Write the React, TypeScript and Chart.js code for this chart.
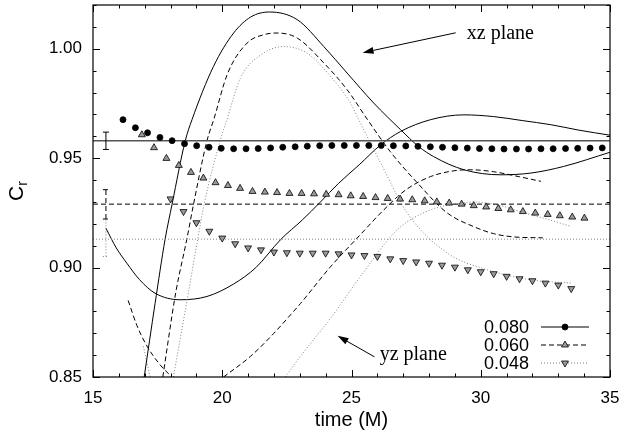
import React, { useEffect, useRef } from "react";
import { Chart, registerables } from "chart.js";
Chart.register(...registerables);

// ---------- data ----------
const xLabelTicks = [15, 20, 25, 30, 35];
const yLabelTicks = [0.85, 0.9, 0.95, 1.0];
const legendLabels = ["0.080", "0.060", "0.048"];

// reference levels (horizontal lines) and their error bars at t = 15.5
const refSpan = [15, 35];
const refLevels = [0.958, 0.929, 0.913];
const errX = [15.5, 15.5, 15.5];
const errLow = [0.954, 0.9222, 0.9051];
const errHigh = [0.9619, 0.9356, 0.9219];

// marker series
const circX = [16.16, 16.64, 17.11, 17.59, 18.06, 18.54, 19.01, 19.49, 19.96, 20.44, 20.92, 21.39, 21.87, 22.34, 22.82, 23.29, 23.77, 24.24, 24.72, 25.19, 25.67, 26.15, 26.62, 27.1, 27.57, 28.05, 28.52, 29.0, 29.48, 29.95, 30.43, 30.9, 31.38, 31.85, 32.33, 32.8, 33.28, 33.75, 34.23, 34.7];
const circY = [0.9676, 0.9639, 0.9616, 0.9595, 0.958, 0.9566, 0.9557, 0.955, 0.9545, 0.9543, 0.9543, 0.9544, 0.9547, 0.955, 0.9552, 0.9555, 0.9557, 0.9558, 0.9558, 0.9558, 0.9558, 0.9558, 0.9557, 0.9556, 0.9554, 0.9552, 0.955, 0.9548, 0.9546, 0.9544, 0.9543, 0.9542, 0.9542, 0.9542, 0.9543, 0.9543, 0.9544, 0.9545, 0.9546, 0.9547];

const upX = [16.89, 17.36, 17.84, 18.32, 18.79, 19.27, 19.74, 20.22, 20.69, 21.17, 21.65, 22.12, 22.6, 23.07, 23.55, 24.02, 24.5, 24.97, 25.45, 25.93, 26.4, 26.88, 27.35, 27.83, 28.3, 28.78, 29.26, 29.73, 30.21, 30.68, 31.16, 31.63, 32.11, 32.59, 33.06, 33.54, 34.01];
const upY = [0.9607, 0.9548, 0.9499, 0.9467, 0.9435, 0.9409, 0.9388, 0.9375, 0.9362, 0.9348, 0.9345, 0.9343, 0.9339, 0.9339, 0.9337, 0.9335, 0.9333, 0.9328, 0.9325, 0.932, 0.9316, 0.9313, 0.931, 0.9305, 0.93, 0.9295, 0.929, 0.9283, 0.9277, 0.927, 0.9264, 0.9256, 0.9249, 0.9243, 0.9237, 0.9231, 0.9226];

const dnX = [18.0, 18.5, 19.0, 19.5, 20.0, 20.5, 21.0, 21.5, 22.0, 22.5, 23.0, 23.5, 24.0, 24.5, 25.0, 25.5, 26.0, 26.5, 27.0, 27.5, 28.0, 28.5, 29.0, 29.5, 30.0, 30.5, 31.0, 31.5, 32.0, 32.5, 33.0, 33.5];
const dnY = [0.9314, 0.9256, 0.9205, 0.9166, 0.9135, 0.9109, 0.909, 0.9081, 0.9071, 0.9068, 0.9066, 0.9066, 0.9066, 0.9063, 0.9058, 0.9055, 0.9051, 0.904, 0.9032, 0.9026, 0.902, 0.9011, 0.9002, 0.899, 0.8981, 0.8972, 0.896, 0.8949, 0.894, 0.8929, 0.892, 0.8904];

// xz plane curves
const xzSolidX = [16.98, 17.4, 17.79, 18.06, 18.57, 18.83, 19.66, 20.44, 21.1, 21.83, 22.9, 23.93, 24.83, 25.86, 26.9, 27.6, 28.18, 29.35, 30.78, 31.94, 33.2, 35.0];
const xzSolidY = [0.85, 0.8835, 0.913, 0.929, 0.958, 0.9676, 0.9919, 1.0072, 1.0145, 1.0168, 1.0133, 1.001, 0.9889, 0.9752, 0.963, 0.9553, 0.9507, 0.9447, 0.9424, 0.9432, 0.9462, 0.9527];
const xzDashedX = [17.7, 18.2, 18.63, 18.89, 19.41, 19.68, 20.2, 20.96, 21.6, 22.12, 22.9, 23.93, 24.83, 25.62, 26.5, 27.54, 28.7, 29.73, 30.5, 31.3, 32.4];
const xzDashedY = [0.85, 0.8885, 0.913, 0.929, 0.958, 0.968, 0.9885, 1.0026, 1.0064, 1.0072, 1.0049, 0.9935, 0.9813, 0.9676, 0.953, 0.9388, 0.925, 0.9187, 0.9155, 0.914, 0.9136];
const xzDottedX = [18.11, 18.69, 19.05, 19.31, 19.92, 20.18, 20.7, 21.6, 22.38, 23.28, 24.19, 24.96, 25.28, 26.12, 27.16, 28.71, 30.26, 31.94, 33.55];
const xzDottedY = [0.85, 0.8885, 0.913, 0.9296, 0.958, 0.9676, 0.9865, 0.998, 1.001, 0.998, 0.9874, 0.9752, 0.9676, 0.948, 0.9249, 0.9066, 0.899, 0.8944, 0.8929];

// yz plane curves
const yzSolidX = [15.5, 15.9, 16.31, 16.8, 17.4, 18.37, 19.41, 20.44, 21.3, 22.25, 23.1, 23.8, 24.5, 25.3, 26.12, 26.9, 28.06, 29.35, 30.5, 31.6, 32.71, 33.8, 35.0];
const yzSolidY = [0.918, 0.909, 0.902, 0.8945, 0.8883, 0.8853, 0.8868, 0.8925, 0.9, 0.9127, 0.9218, 0.93, 0.9385, 0.947, 0.956, 0.9622, 0.9676, 0.9698, 0.969, 0.9672, 0.9653, 0.9628, 0.9605];
const yzDashedAX = [16.36, 16.7, 17.06, 17.6, 18.05];
const yzDashedAY = [0.885, 0.8735, 0.8647, 0.8555, 0.85];
const yzDashedBX = [20.05, 21.09, 22.0, 22.64, 23.02, 24.19, 25.3, 26.25, 27.1, 28.06, 29.0, 29.61, 30.5, 31.5, 32.33];
const yzDashedBY = [0.85, 0.8594, 0.87, 0.8784, 0.8835, 0.9004, 0.9145, 0.9264, 0.9355, 0.9416, 0.9443, 0.9447, 0.9438, 0.9415, 0.9394];
const yzDottedAX = [16.95, 17.21];
const yzDottedAY = [0.864, 0.85];
const yzDottedBX = [22.44, 23.02, 24.2, 25.35, 26.77, 28.06, 29.0, 29.74, 30.7, 31.68, 32.6, 33.5];
const yzDottedBY = [0.85, 0.8594, 0.877, 0.896, 0.9173, 0.9264, 0.929, 0.93, 0.9285, 0.925, 0.922, 0.9188];

// annotations (data coordinates)
const xzLabel = { text: "xz plane", x: 29.46, y: 1.0069, fromX: 29.03, fromY: 1.0073, toX: 25.43, toY: 0.9982 };
const yzLabel = { text: "yz plane", x: 26.09, y: 0.8602, fromX: 25.89, fromY: 0.8592, toX: 24.46, toY: 0.8688 };

// ---------- styles ----------
const SANS = "'Liberation Sans', Arial, Helvetica, sans-serif";
const SERIF = "'Liberation Serif', 'Times New Roman', serif";
const GRAY = "#808080";
const DASH = [5, 3];
const DOT = [1, 2];
const styles = [
  { color: "#000", dash: [] as number[], width: 1 },
  { color: "#000", dash: DASH, width: 1 },
  { color: GRAY, dash: DOT, width: 1 },
];
const markerStyles = [
  { shape: "circle", fill: "#000", border: "#000", r: 3, rot: 0 },
  { shape: "triangle", fill: "#9a9a9a", border: "#000", r: 4, rot: 0 },
  { shape: "triangle", fill: "#9a9a9a", border: "#000", r: 4, rot: 180 },
];

const pts = (xs: number[], ys: number[]) => xs.map((x, i) => ({ x, y: ys[i] }));

function curve(xs: number[], ys: number[], s: number) {
  return {
    data: pts(xs, ys),
    showLine: true,
    borderColor: styles[s].color,
    borderDash: styles[s].dash,
    borderWidth: styles[s].width,
    pointRadius: 0,
    cubicInterpolationMode: "monotone",
    fill: false,
  };
}
function markers(xs: number[], ys: number[], s: number) {
  const m = markerStyles[s];
  return {
    data: pts(xs, ys),
    showLine: false,
    pointStyle: m.shape,
    pointRotation: m.rot,
    pointRadius: m.r,
    pointBackgroundColor: m.fill,
    pointBorderColor: m.border,
    pointBorderWidth: 0.8,
  };
}

function drawMarker(ctx: CanvasRenderingContext2D, s: number, x: number, y: number) {
  const m = markerStyles[s];
  ctx.save();
  ctx.setLineDash([]);
  ctx.fillStyle = m.fill;
  ctx.strokeStyle = m.border;
  ctx.lineWidth = 0.8;
  ctx.beginPath();
  if (m.shape === "circle") {
    ctx.arc(x, y, m.r, 0, Math.PI * 2);
  } else {
    let rad = (m.rot * Math.PI) / 180;
    ctx.moveTo(x + Math.sin(rad) * m.r, y - Math.cos(rad) * m.r);
    rad += (2 * Math.PI) / 3;
    ctx.lineTo(x + Math.sin(rad) * m.r, y - Math.cos(rad) * m.r);
    rad += (2 * Math.PI) / 3;
    ctx.lineTo(x + Math.sin(rad) * m.r, y - Math.cos(rad) * m.r);
    ctx.closePath();
  }
  ctx.fill();
  ctx.stroke();
  ctx.restore();
}

function arrow(ctx: CanvasRenderingContext2D, x1: number, y1: number, x2: number, y2: number) {
  const ang = Math.atan2(y2 - y1, x2 - x1);
  const L = 11, W = 3.5;
  const bx = x2 - Math.cos(ang) * L, by = y2 - Math.sin(ang) * L;
  ctx.beginPath();
  ctx.moveTo(x1, y1);
  ctx.lineTo(bx, by);
  ctx.stroke();
  ctx.beginPath();
  ctx.moveTo(x2, y2);
  ctx.lineTo(bx - Math.sin(ang) * W, by + Math.cos(ang) * W);
  ctx.lineTo(bx + Math.sin(ang) * W, by - Math.cos(ang) * W);
  ctx.closePath();
  ctx.fill();
}

const isLabel = (v: number, list: number[]) => list.some((t) => Math.abs(t - v) < 1e-6);

const gnuPlugin = {
  id: "gnuDecor",
  afterDatasetsDraw(chart: any) {
    const { ctx, chartArea: a, scales } = chart;
    const xs = scales.x, ys = scales.y;
    ctx.save();
    // error bars
    errX.forEach((ex: number, i: number) => {
      const px = xs.getPixelForValue(ex);
      const p1 = ys.getPixelForValue(errLow[i]);
      const p2 = ys.getPixelForValue(errHigh[i]);
      ctx.strokeStyle = styles[i].color;
      ctx.setLineDash(styles[i].dash);
      ctx.lineWidth = 1;
      ctx.beginPath();
      ctx.moveTo(px, p1);
      ctx.lineTo(px, p2);
      ctx.moveTo(px - 3, p1);
      ctx.lineTo(px + 3, p1);
      ctx.moveTo(px - 3, p2);
      ctx.lineTo(px + 3, p2);
      ctx.stroke();
    });
    ctx.setLineDash([]);
    // ticks (inward, all four sides)
    ctx.strokeStyle = "#000";
    ctx.lineWidth = 1;
    ctx.beginPath();
    xs.ticks.forEach((t: any) => {
      const px = Math.round(xs.getPixelForValue(t.value)) + 0.5;
      const L = isLabel(t.value, xLabelTicks) ? 7 : 3.5;
      ctx.moveTo(px, a.bottom);
      ctx.lineTo(px, a.bottom - L);
      ctx.moveTo(px, a.top);
      ctx.lineTo(px, a.top + L);
    });
    ys.ticks.forEach((t: any) => {
      const py = Math.round(ys.getPixelForValue(t.value)) + 0.5;
      const L = isLabel(t.value, yLabelTicks) ? 7 : 3.5;
      ctx.moveTo(a.left, py);
      ctx.lineTo(a.left + L, py);
      ctx.moveTo(a.right, py);
      ctx.lineTo(a.right - L, py);
    });
    ctx.stroke();
    // frame
    ctx.lineWidth = 1.2;
    ctx.strokeRect(a.left, a.top, a.right - a.left, a.bottom - a.top);

    // annotations
    ctx.fillStyle = "#000";
    ctx.lineWidth = 1;
    ctx.font = `20px ${SERIF}`;
    ctx.textAlign = "left";
    ctx.textBaseline = "middle";
    [xzLabel, yzLabel].forEach((l) => {
      ctx.fillText(l.text, xs.getPixelForValue(l.x), ys.getPixelForValue(l.y));
      arrow(ctx, xs.getPixelForValue(l.fromX), ys.getPixelForValue(l.fromY), xs.getPixelForValue(l.toX), ys.getPixelForValue(l.toY));
    });

    // legend
    ctx.font = `18px ${SANS}`;
    ctx.textAlign = "right";
    legendLabels.forEach((lab: string, i: number) => {
      const y = a.bottom - 50 + 18 * i;
      ctx.fillStyle = "#000";
      ctx.fillText(lab, a.right - 81, y + 1);
      ctx.strokeStyle = styles[i].color;
      ctx.setLineDash(styles[i].dash);
      ctx.lineWidth = styles[i].width;
      ctx.beginPath();
      ctx.moveTo(a.right - 69, y);
      ctx.lineTo(a.right - 21, y);
      ctx.stroke();
      drawMarker(ctx, i, a.right - 45, y);
    });
    ctx.setLineDash([]);

    // axis titles
    ctx.fillStyle = "#000";
    ctx.font = `20px ${SANS}`;
    ctx.textAlign = "center";
    ctx.textBaseline = "middle";
    ctx.fillText("time (M)", (a.left + a.right) / 2, 420);
    ctx.save();
    ctx.translate(17, (a.top + a.bottom) / 2);
    ctx.rotate(-Math.PI / 2);
    ctx.font = `21px ${SANS}`;
    const cw = ctx.measureText("C").width;
    ctx.font = `14px ${SANS}`;
    const rw = ctx.measureText("r").width;
    const x0 = -(cw + rw) / 2;
    ctx.textAlign = "left";
    ctx.font = `21px ${SANS}`;
    ctx.fillText("C", x0, 0);
    ctx.font = `14px ${SANS}`;
    ctx.fillText("r", x0 + cw, 6);
    ctx.restore();
    ctx.restore();
  },
};

const zeroPad = (s: any) => {
  s.paddingTop = 0;
  s.paddingBottom = 0;
  s.paddingLeft = 0;
  s.paddingRight = 0;
};

export default function App() {
  const ref = useRef<HTMLCanvasElement>(null);
  useEffect(() => {
    const datasets: any[] = [
      markers(circX, circY, 0),
      markers(upX, upY, 1),
      markers(dnX, dnY, 2),
      curve(refSpan, [refLevels[0], refLevels[0]], 0),
      curve(refSpan, [refLevels[1], refLevels[1]], 1),
      curve(refSpan, [refLevels[2], refLevels[2]], 2),
      curve(xzSolidX, xzSolidY, 0),
      curve(xzDashedX, xzDashedY, 1),
      curve(xzDottedX, xzDottedY, 2),
      curve(yzSolidX, yzSolidY, 0),
      curve(yzDashedAX, yzDashedAY, 1),
      curve(yzDashedBX, yzDashedBY, 1),
      curve(yzDottedAX, yzDottedAY, 2),
      curve(yzDottedBX, yzDottedBY, 2),
    ];
    datasets[3].borderColor = "#555";
    datasets[3].borderWidth = 1.5;
    const chart = new Chart(ref.current!, {
      type: "scatter",
      data: { datasets },
      options: {
        animation: false,
        responsive: false,
        devicePixelRatio: 1,
        layout: { autoPadding: false, padding: { left: 0, right: 14, top: 5, bottom: 0 } },
        plugins: { legend: { display: false }, tooltip: { enabled: false } },
        scales: {
          x: {
            type: "linear",
            min: 15,
            max: 35,
            border: { display: false },
            grid: { display: false, drawTicks: false },
            ticks: {
              stepSize: 1,
              padding: 11,
              color: "#000",
              font: { family: SANS, size: 17 },
              maxRotation: 0,
              autoSkip: false,
              callback: (v: any) => (isLabel(Number(v), xLabelTicks) ? String(Math.round(Number(v))) : ""),
            },
            afterFit: (s: any) => {
              s.height = 57;
              zeroPad(s);
            },
          },
          y: {
            type: "linear",
            min: 0.85,
            max: 1.02,
            border: { display: false },
            grid: { display: false, drawTicks: false },
            ticks: {
              stepSize: 0.01,
              padding: 11,
              color: "#000",
              font: { family: SANS, size: 17 },
              autoSkip: false,
              callback: (v: any) => (isLabel(Number(v), yLabelTicks) ? Number(v).toFixed(2) : ""),
            },
            afterFit: (s: any) => {
              s.width = 93;
              zeroPad(s);
            },
          },
        },
      },
      plugins: [gnuPlugin],
    } as any);
    return () => chart.destroy();
  }, []);
  return (
    <div style={{ position: "fixed", left: 0, top: 0, width: 624, height: 434, background: "#fff" }}>
      <canvas ref={ref} width={624} height={434} style={{ width: 624, height: 434 }} />
    </div>
  );
}
